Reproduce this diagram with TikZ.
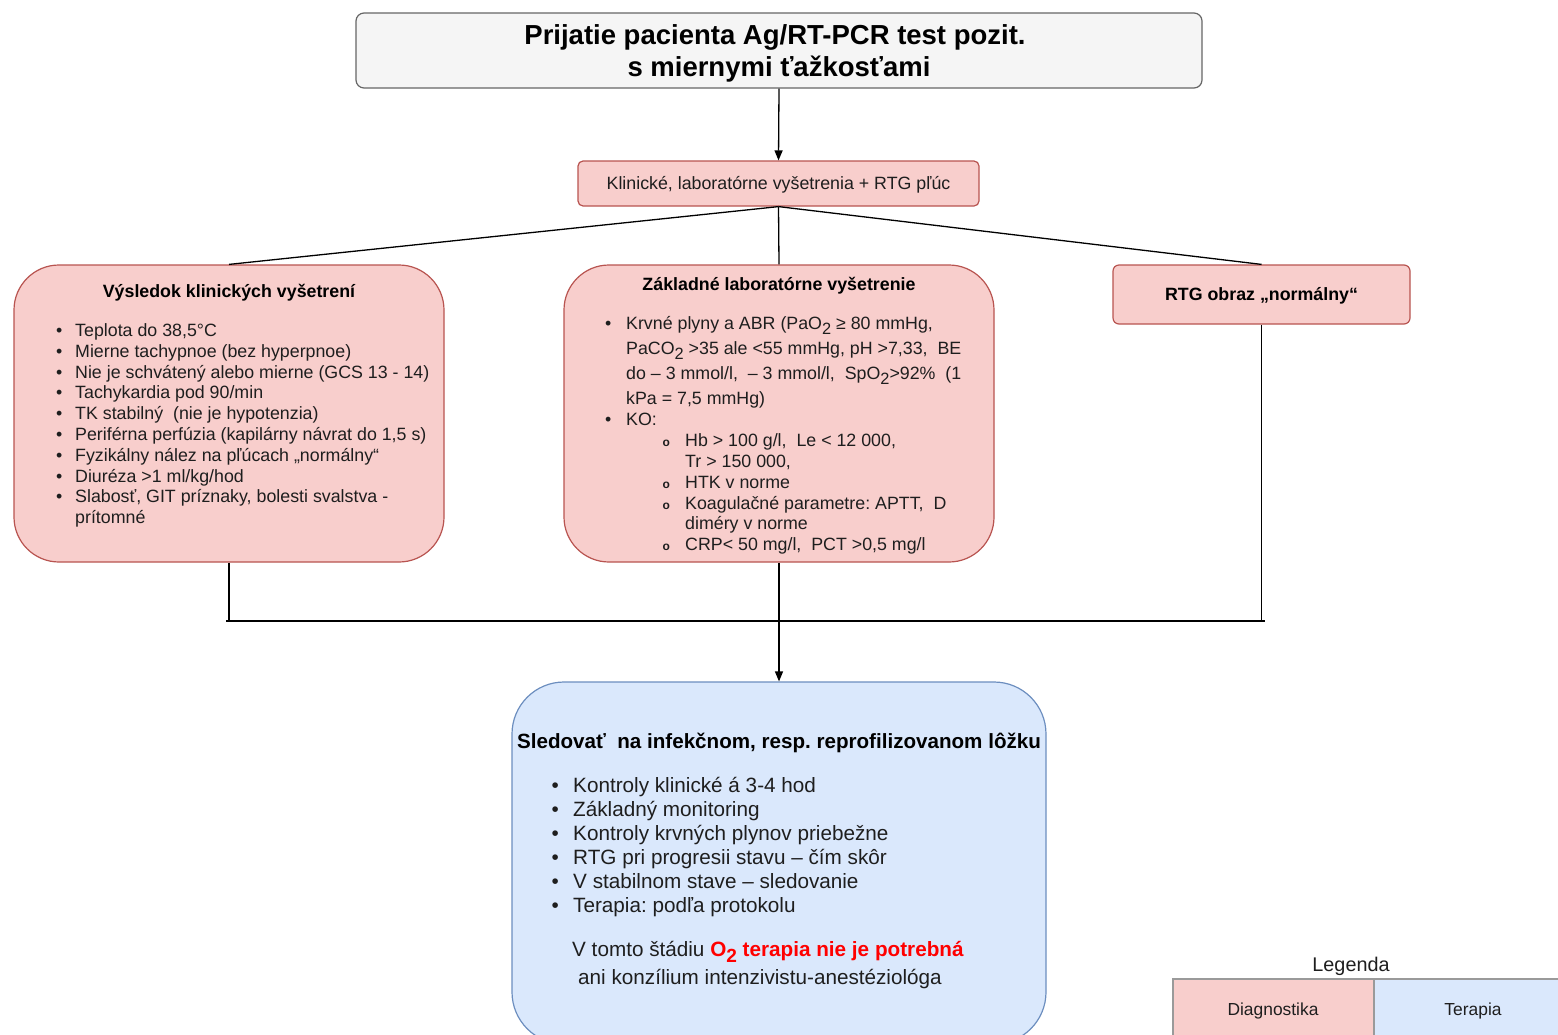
\documentclass[tikz,border=0pt]{standalone}
\usepackage{fontspec}
\usepackage{graphicx}
\setmainfont{Liberation Sans}
\usetikzlibrary{arrows.meta}
\definecolor{pinkf}{HTML}{F8CECC}
\definecolor{pinkd}{HTML}{B85450}
\definecolor{bluef}{HTML}{DAE8FC}
\definecolor{blued}{HTML}{6C8EBF}
\definecolor{grayf}{HTML}{F5F5F5}
\definecolor{grayd}{HTML}{666666}
\definecolor{legd}{HTML}{9A9A9A}
\definecolor{txtc}{HTML}{1E1E1E}
\newcommand\blt[1]{\makebox[#1][l]{•}}
\newcommand\sblt[1]{\makebox[#1][l]{\fontsize{12}{12}\selectfont\bfseries o}}
\newcommand\lsub[1]{\raisebox{-0.3em}{\scalebox{0.92}{#1}}}
\frenchspacing
\tikzset{
  boxbase/.style={draw, line width=1.2pt, inner sep=0pt},
  pinkbox/.style={boxbase, draw=pinkd, fill=pinkf},
  bluebox/.style={boxbase, draw=blued, fill=bluef},
  graybox/.style={boxbase, draw=grayd, fill=grayf},
  conn/.style={line width=1.3pt, draw=black},
  arr/.style={conn, -{Triangle[length=10pt,width=8pt]}},
  txt/.style={anchor=base west, inner sep=0pt, text=txtc, font=\fontsize{17.8}{20.8}\selectfont},
  btxt/.style={anchor=base west, inner sep=0pt, text=txtc, font=\fontsize{20.7}{24}\selectfont},
  hdr/.style={anchor=base, inner sep=0pt, text=black, font=\fontsize{17.8}{20.8}\selectfont\bfseries},
}
\begin{document}
\begin{tikzpicture}[x=1pt,y=-1pt]
\useasboundingbox (0,0) rectangle (1558,1034);
% boxes
\node[graybox, rounded corners=8pt, minimum width=846pt, minimum height=75pt] (top) at (779,50.5) {};
\node[pinkbox, rounded corners=5pt, minimum width=401pt, minimum height=45pt] (klin) at (778.5,183.5) {};
\node[pinkbox, rounded corners=45pt, minimum width=430pt, minimum height=297pt] (left) at (229,413.5) {};
\node[pinkbox, rounded corners=45pt, minimum width=430pt, minimum height=297pt] (mid) at (779,413.5) {};
\node[pinkbox, rounded corners=6pt, minimum width=297pt, minimum height=59pt] (rtg) at (1261.5,294.5) {};
\node[bluebox, rounded corners=52pt, minimum width=534pt, minimum height=362pt] (bot) at (779,863) {};
\node[boxbase, draw=legd, fill=pinkf, minimum width=201pt, minimum height=70pt] (legp) at (1273.5,1014) {};
\node[boxbase, draw=legd, fill=bluef, minimum width=200pt, minimum height=70pt] (legb) at (1474,1014) {};
% connectors
\coordinate (jl) at (226,621);
\coordinate (jr) at (1265,621);
\draw[arr] (top.south) -- (klin.north);
\draw[conn] (klin.south) -- (left.north);
\draw[conn] (klin.south) -- (mid.north);
\draw[conn] (klin.south) -- (rtg.north);
\draw[conn] (left.south) -- (left.south |- jl);
\draw[conn] (rtg.south) -- (rtg.south |- jl);
\draw[conn] (jl) -- (jr);
\draw[arr] (mid.south) -- (bot.north);
% top title
\node[anchor=base, inner sep=0pt, font=\fontsize{27.5}{32}\selectfont\bfseries] (t1) at (775,44) {Prijatie pacienta Ag/RT-PCR test pozit.};
\node[anchor=base, inner sep=0pt, font=\fontsize{27.5}{32}\selectfont\bfseries] (t2) at (779,76) {s miernymi ťažkosťami};
\node[anchor=base, inner sep=0pt, text=txtc, font=\fontsize{17.8}{20.8}\selectfont] (kt) at (778.5,189.5) {Klinické, laboratórne vyšetrenia + RTG pľúc};
% left box
\node[hdr] (lh) at (229,297.5) {Výsledok klinických vyšetrení};
\node[txt] (l1) at (56,336.5) {\blt{19pt}Teplota do 38,5°C};
\node[txt] (l2) at (56,357.5) {\blt{19pt}Mierne tachypnoe (bez hyperpnoe)};
\node[txt] (l3) at (56,378.5) {\blt{19pt}Nie je schvátený alebo mierne (GCS 13 - 14)};
\node[txt] (l4) at (56,398.5) {\blt{19pt}Tachykardia pod 90/min};
\node[txt] (l5) at (56,419.5) {\blt{19pt}TK stabilný\ \ (nie je hypotenzia)};
\node[txt] (l6) at (56,440.5) {\blt{19pt}Periférna perfúzia (kapilárny návrat do 1,5 s)};
\node[txt] (l7) at (56,461.5) {\blt{19pt}Fyzikálny nález na pľúcach „normálny“};
\node[txt] (l8) at (56,482.5) {\blt{19pt}Diuréza >1 ml/kg/hod};
\node[txt] (l9) at (56,502.5) {\blt{19pt}Slabosť, GIT príznaky, bolesti svalstva -};
\node[txt] (l10) at (75,523.5) {prítomné};
% middle box
\node[hdr] (mh) at (779,290.5) {Základné laboratórne vyšetrenie};
\node[txt] (m1) at (605,329.5) {\blt{21pt}Krvné plyny a ABR (PaO\lsub{2} ≥ 80 mmHg,};
\node[txt] (m2) at (626,354.5) {PaCO\lsub{2} >35 ale <55 mmHg, pH >7,33,\ \ BE};
\node[txt] (m3) at (626,379.5) {do – 3 mmol/l,\ \ – 3 mmol/l,\ \ SpO\lsub{2}>92\%\ \ (1};
\node[txt] (m4) at (626,404.5) {kPa = 7,5 mmHg)};
\node[txt] (m5) at (605,425.5) {\blt{21pt}KO:};
\node[txt] (m6) at (662.3,446.5) {\sblt{22.7pt}Hb > 100 g/l,\ \ Le < 12 000,};
\node[txt] (m7) at (685,467.5) {Tr > 150 000,};
\node[txt] (m8) at (662.3,488.5) {\sblt{22.7pt}HTK v norme};
\node[txt] (m9) at (662.3,509.5) {\sblt{22.7pt}Koagulačné parametre: APTT,\ \ D};
\node[txt] (m10) at (685,529.5) {diméry v norme};
\node[txt] (m11) at (662.3,550.5) {\sblt{22.7pt}CRP< 50 mg/l,\ \ PCT >0,5 mg/l};
% rtg
\node[hdr] (rt) at (1261.5,300.5) {RTG obraz „normálny“};
% bottom box
\node[anchor=base, inner sep=0pt, font=\fontsize{20.6}{23}\selectfont\bfseries] (bh) at (779,748.5) {Sledovať\ \ na infekčnom, resp. reprofilizovanom lôžku};
\node[btxt] (b1) at (551.5,792.5) {\blt{21.5pt}Kontroly klinické á 3-4 hod};
\node[btxt] (b2) at (551.5,816.5) {\blt{21.5pt}Základný monitoring};
\node[btxt] (b3) at (551.5,840.5) {\blt{21.5pt}Kontroly krvných plynov priebežne};
\node[btxt] (b4) at (551.5,864.5) {\blt{21.5pt}RTG pri progresii stavu – čím skôr};
\node[btxt] (b5) at (551.5,888.5) {\blt{21.5pt}V stabilnom stave – sledovanie};
\node[btxt] (b6) at (551.5,912.5) {\blt{21.5pt}Terapia: podľa protokolu};
\node[btxt] (b7) at (572,956.5) {V tomto štádiu {\color{red}\bfseries O\lsub{2} terapia nie je potrebná}};
\node[btxt] (b8) at (578,984.5) {ani konzílium intenzivistu-anestéziológa};
% legend
\node[anchor=base, inner sep=0pt, text=txtc, font=\fontsize{19.8}{22}\selectfont] (lg) at (1351,971.5) {Legenda};
\node[anchor=base, inner sep=0pt, text=txtc, font=\fontsize{17.4}{20}\selectfont] (lgp) at (1273,1015) {Diagnostika};
\node[anchor=base, inner sep=0pt, text=txtc, font=\fontsize{17.4}{20}\selectfont] (lgb) at (1473,1015) {Terapia};
\end{tikzpicture}
\end{document}
